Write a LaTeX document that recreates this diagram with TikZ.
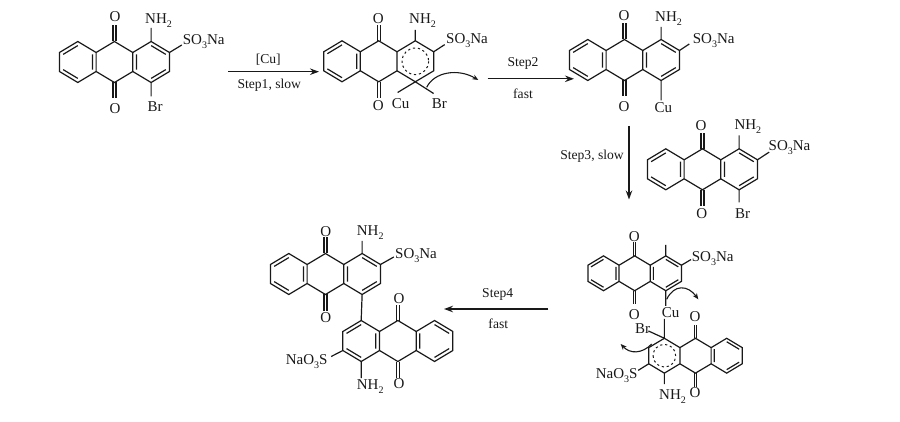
\documentclass[tikz,border=0pt]{standalone}
\usepackage{fontspec}
\setmainfont{Liberation Serif}
\usetikzlibrary{arrows.meta}
\newcommand\chsub[1]{\raisebox{-0.28em}{\fontsize{10}{10}\selectfont #1}}
\newcommand\soNa{SO\chsub{3}Na}
\newcommand\naSO{NaO\chsub{3}S}
\newcommand\nhtwo{NH\chsub{2}}
\newcommand\skeleton{%
  \draw[bond] (0,-20.5)--(18.33,-9.5)--(18.33,9.5)--(0,20.5)--(-18.33,9.5)--(-18.33,-9.5)--cycle;
  \draw[bond] (18.33,-9.5)--(36.67,-20.5)--(55,-9.5)--(55,9.5)--(36.67,20.5)--(18.33,9.5);
  \draw[bond] (55,-9.5)--(73.33,-20.5)--(91.67,-9.5)--(91.67,9.5)--(73.33,20.5)--(55,9.5);
  \draw[bond] (-14.66,-7.6)--(0,-16.4) (-14.66,7.6)--(0,16.4) (14.66,-7.6)--(14.66,7.6);
  \draw[bond] (35.2,-20.5)--(35.2,-36.5) (38.1,-20.5)--(38.1,-36.5);
  \draw[bond] (35.2,20.5)--(35.2,36.5) (38.1,20.5)--(38.1,36.5);
}
\newcommand\aromring{%
  \draw[bond] (58.67,-7.6)--(58.67,7.6) (73.33,-16.4)--(88,-7.6) (88,7.6)--(73.33,16.4);
}
\newcommand\dotring{%
  \draw[bond,line width=1pt,dash pattern=on 2.2pt off 2.8pt] (73.33,0) circle[radius=13.3];
}
\tikzset{
  bond/.style={line width=1.2pt,draw=black!90},
  molframe/.style n args={3}{shift={(#1,#2)},xscale=#3},
  atomlab/.style={inner sep=0pt,font=\fontsize{15}{15}\selectfont,text=black!90},
  steplab/.style={inner sep=0pt,font=\fontsize{13.6}{14}\selectfont,text=black!90},
  rxn/.style={line width=1.3pt,draw=black!90,-{Stealth[length=9pt,width=6.5pt]}},
  curly/.style={line width=1.1pt,draw=black!90,-{Stealth[length=6pt,width=5pt]}}
}
\begin{document}
\begin{tikzpicture}[x=1pt,y=-1pt]
\useasboundingbox (0,0) rectangle (900,422);
% molecule 1
\begin{scope}[molframe={77.8}{62}{1}]
  \skeleton\aromring
  \draw[bond] (73.33,-20.5)--(73.33,-34) (91.67,-9.5)--(104,-17) (73.33,20.5)--(73.33,34.5);
\end{scope}
\node[atomlab] (m1o1) at (115,16.7) {O};
\node[atomlab] (m1o2) at (115,108.3) {O};
\node[atomlab,anchor=base west] (m1n) at (145,23.3) {\nhtwo};
\node[atomlab,anchor=base west] (m1s) at (182.7,44.3) {\soNa};
\node[atomlab,anchor=base west] (m1b) at (147.3,111.7) {Br};
% molecule 2
\begin{scope}[molframe={342}{61.3}{1}]
  \skeleton\dotring
  \draw[bond] (73.33,-20.5)--(73.33,-31.5) (91.67,-9.5)--(102.7,-16.7) (73.33,20.5)--(55.6,31.2) (73.33,20.5)--(91.6,32.2);
\end{scope}
\node[atomlab] (m2o1) at (378.3,18.3) {O};
\node[atomlab] (m2o2) at (378.3,105.7) {O};
\node[atomlab,anchor=base west] (m2n) at (409,23.3) {\nhtwo};
\node[atomlab,anchor=base west] (m2s) at (446,43.3) {\soNa};
\node[atomlab,anchor=base west] (m2c) at (391.7,109) {Cu};
\node[atomlab,anchor=base west] (m2b) at (431.7,108.3) {Br};
% molecule 3
\begin{scope}[molframe={587.8}{60}{1}]
  \skeleton\aromring
  \draw[bond] (73.33,-20.5)--(73.33,-33) (91.67,-9.5)--(101.5,-16) (73.33,20.5)--(73.33,40.5);
\end{scope}
\node[atomlab] (m3o1) at (624,15.7) {O};
\node[atomlab] (m3o2) at (624,106.7) {O};
\node[atomlab,anchor=base west] (m3n) at (655,21.7) {\nhtwo};
\node[atomlab,anchor=base west] (m3s) at (692.7,43.3) {\soNa};
\node[atomlab,anchor=base west] (m3c) at (654.3,112.3) {Cu};
% molecule 4
\begin{scope}[molframe={665.8}{169.3}{1}]
  \skeleton\aromring
  \draw[bond] (73.33,-20.5)--(73.33,-33.8) (91.67,-9.5)--(103.4,-17.2) (73.33,20.5)--(73.33,33.2);
\end{scope}
\node[atomlab] (m4o1) at (701,125.7) {O};
\node[atomlab] (m4o2) at (701.7,213.3) {O};
\node[atomlab,anchor=base west] (m4n) at (734.3,129.3) {\nhtwo};
\node[atomlab,anchor=base west] (m4s) at (768.5,150.7) {\soNa};
\node[atomlab,anchor=base west] (m4b) at (735,218.3) {Br};
% molecule 5: upper part
\begin{scope}[shift={(603.5,273.3)},xscale=0.85,yscale=0.85]
  \skeleton\aromring
  \draw[bond] (73.33,-20.5)--(73.33,-33.3) (91.67,-9.5)--(103,-16.2) (73.33,20.5)--(73.33,38.4);
\end{scope}
\node[atomlab] (m5o1) at (634.3,236.7) {O};
\node[atomlab] (m5o2) at (634.3,315) {O};
\node[atomlab,anchor=base west] (m5s) at (691.7,261.7) {\soNa};
\node[atomlab,anchor=base west] (m5c) at (661.7,317.7) {Cu};
% molecule 5: lower part
\begin{scope}[shift={(726.7,355.7)},xscale=-0.85,yscale=0.85]
  \skeleton\dotring
  \draw[bond] (73.33,-20.5)--(73.33,-43.2) (73.33,-20.5)--(92.1,-29.1) (91.67,9.5)--(104.2,17.3) (73.33,20.5)--(73.33,33.4);
\end{scope}
\node[atomlab,anchor=base west] (m5b) at (635,333.3) {Br};
\node[atomlab] (m5o3) at (695,316.7) {O};
\node[atomlab] (m5o4) at (695,392.7) {O};
\node[atomlab,anchor=base west] (m5n) at (659,399.3) {\nhtwo};
\node[atomlab,anchor=base east] (m5t) at (637.7,378.3) {\naSO};
% molecule 6: upper part
\begin{scope}[molframe={288.8}{274}{1}]
  \skeleton\aromring
  \draw[bond] (73.33,-20.5)--(73.33,-33.2) (91.67,-9.5)--(105,-17);
  \coordinate (m6top) at (73.33,20.5);
\end{scope}
\node[atomlab] (m6o1) at (325.7,231.7) {O};
\node[atomlab] (m6o2) at (325.7,317.3) {O};
\node[atomlab,anchor=base west] (m6n1) at (356.7,235.7) {\nhtwo};
\node[atomlab,anchor=base west] (m6s1) at (395,258.3) {\soNa};
% molecule 6: lower part
\begin{scope}[molframe={434.5}{341}{-1}]
  \skeleton\aromring
  \draw[bond] (73.33,20.5)--(73.33,37) (91.67,9.5)--(103.3,15.5);
  \coordinate (m6bot) at (73.33,-20.5);
\end{scope}
\draw[bond] (m6top)--(m6bot);
\node[atomlab] (m6o3) at (399,298.3) {O};
\node[atomlab] (m6o4) at (399,383.3) {O};
\node[atomlab,anchor=base west] (m6n2) at (356.7,389) {\nhtwo};
\node[atomlab,anchor=base east] (m6s2) at (327.7,364) {\naSO};
% reaction arrows
\coordinate (a1s) at (228.3,71.7); \coordinate (a1e) at (319,71.7);
\coordinate (a2s) at (487.7,78.8); \coordinate (a2e) at (574,78.8);
\coordinate (a3s) at (629,126); \coordinate (a3e) at (629,199.5);
\coordinate (a4s) at (548.3,309); \coordinate (a4e) at (444,309);
\draw[rxn] (a1s)--(a1e);
\draw[rxn] (a2s)--(a2e);
\draw[rxn] (a3s)--(a3e);
\draw[rxn] (a4s)--(a4e);
\node[steplab] (l1) at (268.3,60) {[Cu]};
\node[steplab] (l2) at (269.3,85) {Step1, slow};
\node[steplab] (l3) at (523,63) {Step2};
\node[steplab] (l4) at (523,94) {fast};
\node[steplab] (l5) at (592,156.7) {Step3, slow};
\node[steplab] (l6) at (497.7,294) {Step4};
\node[steplab] (l7) at (498.3,323.3) {fast};
% curved electron arrows
\coordinate (c1s) at (426.7,87.3); \coordinate (c1e) at (478.3,80);
\coordinate (c2s) at (666.7,299.3); \coordinate (c2e) at (698.3,299.3);
\coordinate (c3s) at (651.7,344); \coordinate (c3e) at (620.7,344);
\draw[curly] (c1s) .. controls (434,72) and (458,68) .. (c1e);
\draw[curly] (c2s) .. controls (674,284) and (688,285) .. (c2e);
\draw[curly] (c3s) .. controls (642,354) and (630,354) .. (c3e);
\end{tikzpicture}
\end{document}
